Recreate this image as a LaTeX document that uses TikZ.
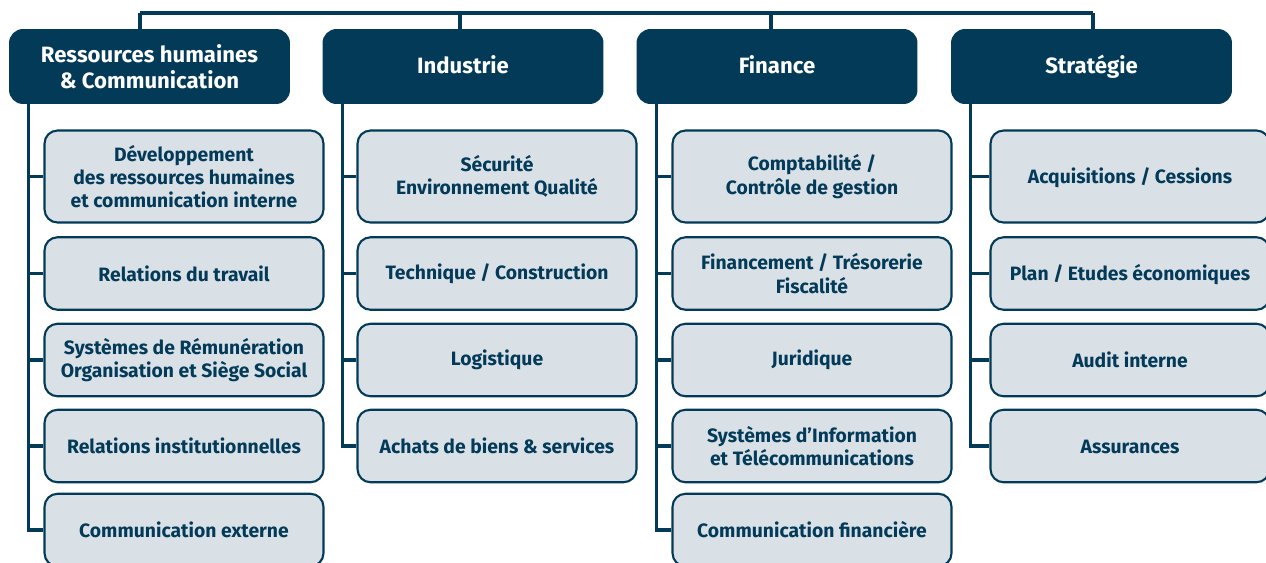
\documentclass[tikz,border=0pt]{standalone}
\usepackage{fontspec}
\setmainfont{Fira Sans}
\usetikzlibrary{positioning}
\definecolor{navy}{HTML}{033A58}
\definecolor{paleblue}{HTML}{D9E1E7}

\begin{document}
\begin{tikzpicture}[
        x=0.02cm, y=-0.02cm,
        branch/.style={draw=navy, line width=1.8pt},
        head/.style={rectangle, rounded corners=0.28cm, fill=navy, text=white, minimum width=5.62cm, minimum height=1.5cm, inner sep=2pt, align=center, font=\fontsize{12.6}{14.7}\selectfont\bfseries},
        oneline/.style={text height=2.1ex, text depth=0.5ex},
        unit/.style={rectangle, rounded corners=0.26cm, draw=navy, line width=1.2pt, fill=paleblue, text=navy, minimum width=5.58cm, minimum height=1.45cm, inner sep=2pt, align=center, font=\fontsize{11}{13.3}\selectfont\bfseries},
        tall/.style={minimum height=1.84cm},
    ]
    \useasboundingbox (0,0) rectangle (1266,562);

    % Directions
    \node[head] (rh) at (149.5,66.5) {Ressources humaines\\\& Communication};
    \node[head, oneline] (ind) at (463,66.5) {Industrie};
    \node[head, oneline] (fin) at (777,66.5) {Finance};
    \node[head, oneline] (str) at (1091.5,66.5) {Stratégie};

    % Services of each direction (first row is taller)
    \node[unit, tall] (rh-1) at (184,176.5) {Développement\\des ressources humaines\\et communication interne};
    \node[unit, tall] (ind-1) at (497,176.5) {Sécurité\\Environnement Qualité};
    \node[unit, tall] (fin-1) at (812,176.5) {Comptabilité /\\Contrôle de gestion};
    \node[unit, tall, oneline] (str-1) at (1130,176.5) {Acquisitions / Cessions};

    \foreach \i/\y/\txt in {2/273.5/{Relations du travail},
                            3/360/{Systèmes de Rémunération\\Organisation et Siège Social},
                            4/446/{Relations institutionnelles},
                            5/530/{Communication externe}}
        \node[unit] (rh-\i) at (184,\y) {\txt};
    \foreach \i/\y/\txt in {2/273.5/{Technique / Construction},
                            3/360/{Logistique},
                            4/446/{Achats de biens \& services}}
        \node[unit] (ind-\i) at (497,\y) {\txt};
    \foreach \i/\y/\txt in {2/273.5/{Financement / Trésorerie\\Fiscalité},
                            3/360/{Juridique},
                            4/446/{Systèmes d’Information\\et Télécommunications},
                            5/530/{Communication financière}}
        \node[unit] (fin-\i) at (812,\y) {\txt};
    \foreach \i/\y/\txt in {2/273.5/{Plan / Etudes économiques},
                            3/360/{Audit interne},
                            4/446/{Assurances}}
        \node[unit, oneline] (str-\i) at (1130,\y) {\txt};

    % Top bar joining the directions
    \foreach \col/\x in {rh/140, ind/460, fin/771, str/1093}
        \coordinate (top-\col) at (\x,13);
    \draw[branch] (top-rh) -- (top-str);
    \foreach \col in {rh,ind,fin,str}
        \draw[branch] (top-\col) -- (top-\col |- \col.north);

    % Trunks down to the services
    \foreach \col in {rh,ind,fin,str}
        \coordinate (\col-trunk) at ([xshift=0.4cm]\col.south west);
    \foreach \col/\n in {rh/5, ind/4, fin/5, str/4}
        \foreach \i in {1,...,\n}
            \draw[branch] (\col-trunk) |- (\col-\i.west);
\end{tikzpicture}
\end{document}
